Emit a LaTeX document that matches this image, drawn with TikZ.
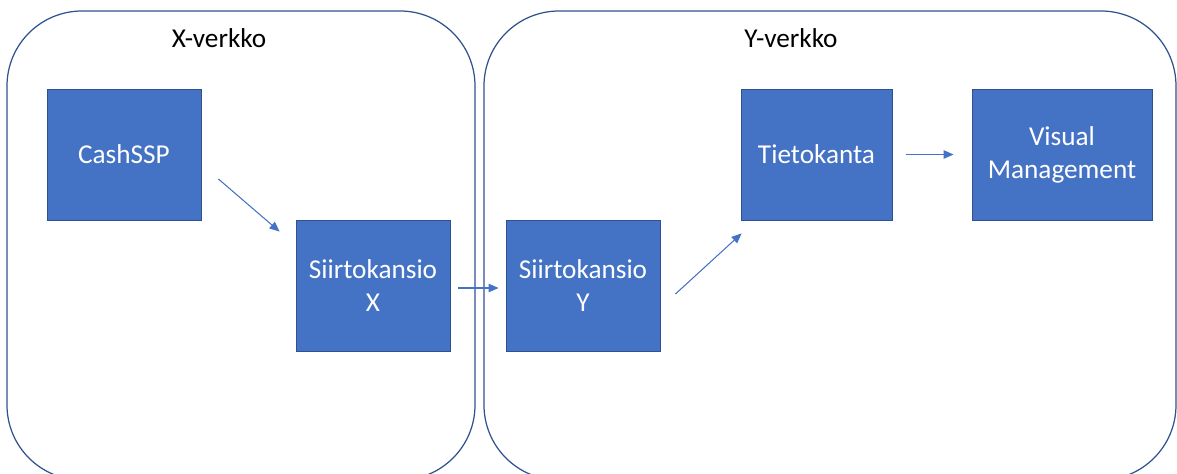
\documentclass[tikz,border=0pt]{standalone}
\usepackage{fontspec}
\setmainfont{Carlito}
\usetikzlibrary{arrows.meta}
\definecolor{officeblue}{HTML}{4472C4}
\definecolor{officeedge}{HTML}{2F528F}
\begin{document}
\begin{tikzpicture}[
  net/.style={draw=officeedge, line width=0.7pt, rounded corners=1.5cm},
  netlabel/.style={anchor=base, font=\fontsize{15.5}{18.8}\selectfont},
  block/.style={draw=officeedge, line width=0.5pt, fill=officeblue, text=white, align=center,
    minimum height=2.62cm, font=\fontsize{15.5}{18.8}\selectfont},
  flow/.style={-{Triangle[length=0.2cm, width=0.17cm]}, draw=officeblue, line width=0.6pt}
]
\useasboundingbox (0,-9.46) rectangle (23.54,0);
\clip (0,-9.46) rectangle (23.54,0);
\node[net, minimum width=9.36cm, minimum height=9.38cm] (xnet) at (4.82,-4.91) {};
\node[net, minimum width=13.84cm, minimum height=9.38cm] (ynet) at (16.6,-4.91) {};
\node[netlabel] (xlabel) at ([xshift=-0.44cm,yshift=3.97cm]xnet.center) {X-verkko};
\node[netlabel] (ylabel) at ([xshift=-0.78cm,yshift=3.97cm]ynet.center) {Y-verkko};
\node[block, minimum width=3.08cm] (cash) at ([xshift=-2.34cm,yshift=1.82cm]xnet.center) {CashSSP};
\node[block, minimum width=3.08cm] (siirtox) at ([xshift=2.64cm,yshift=-0.8cm]xnet.center) {Siirtokansio\\X};
\node[block, minimum width=3.08cm] (siirtoy) at ([xshift=-4.94cm,yshift=-0.8cm]ynet.center) {Siirtokansio\\Y};
\node[block, minimum width=3.02cm] (tieto) at ([xshift=-0.27cm,yshift=1.82cm]ynet.center) {Tietokanta};
\node[block, minimum width=3.6cm] (visual) at ([xshift=4.64cm,yshift=1.82cm]ynet.center) {Visual\\Management};
\draw[flow] ([xshift=0.34cm,yshift=-0.49cm]cash.east) -- ([xshift=-0.32cm,yshift=-0.24cm]siirtox.north west);
\draw[flow] ([xshift=0.16cm,yshift=-0.05cm]siirtox.east) -- ([xshift=-0.14cm,yshift=-0.05cm]siirtoy.west);
\draw[flow] ([xshift=0.3cm,yshift=-0.17cm]siirtoy.east) -- ([xshift=0.02cm,yshift=-0.26cm]tieto.south west);
\draw[flow, shorten <=0.28cm, shorten >=0.36cm] (tieto.east) -- (visual.west);
\end{tikzpicture}
\end{document}
